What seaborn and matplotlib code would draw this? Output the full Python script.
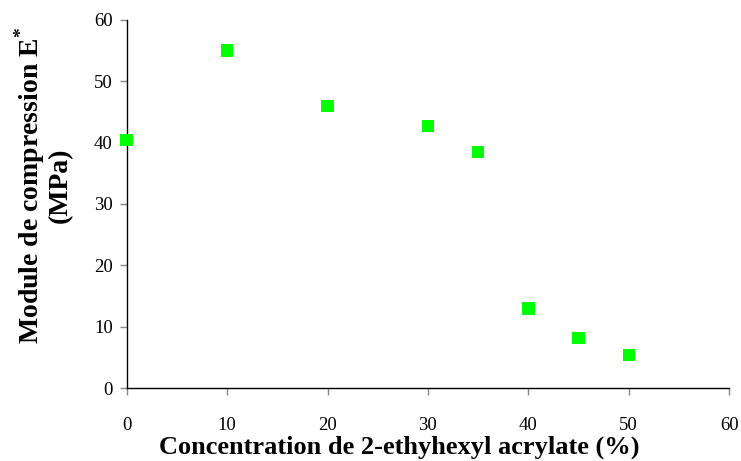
import matplotlib
matplotlib.use('Agg')
import matplotlib.pyplot as plt
import seaborn as sns
import pandas as pd

# values
concentration = [0, 10, 20, 30, 35, 40, 45, 50]
module_e = [40.4, 55.0, 46.0, 42.7, 38.5, 13.0, 8.2, 5.4]

df = pd.DataFrame({'conc': concentration, 'E': module_e})

sns.set_style('white')
plt.rcParams['font.family'] = ['Liberation Serif', 'DejaVu Serif']
plt.rcParams['mathtext.fontset'] = 'custom'
plt.rcParams['mathtext.rm'] = 'Liberation Serif:bold'
plt.rcParams['mathtext.bf'] = 'Liberation Serif:bold'
plt.rcParams['text.color'] = 'black'
plt.rcParams['axes.labelcolor'] = 'black'

fig = plt.figure(figsize=(7.41, 4.61), dpi=100)
ax = fig.add_axes([0.171, 0.158, 0.813, 0.799])

sns.scatterplot(data=df, x='conc', y='E', marker='s', s=80, color='#00ff00',
                edgecolor='none', ax=ax, clip_on=False, zorder=3)

ax.set_xlim(0, 60)
ax.set_ylim(0, 60)
ax.set_xticks(range(0, 61, 10))
ax.set_yticks(range(0, 61, 10))

for side in ['top', 'right']:
    ax.spines[side].set_visible(False)
for side in ['left', 'bottom']:
    ax.spines[side].set_color('black')
    ax.spines[side].set_linewidth(1.0)

ax.tick_params(axis='x', direction='out', length=5, width=1, color='#888888',
               pad=16, labelsize=13.5, labelcolor='black', bottom=True)
ax.tick_params(axis='y', direction='out', length=5, width=1, color='#888888',
               pad=5, labelsize=13.5, labelcolor='black', left=True)

ax.set_xlabel('Concentration de 2-ethyhexyl acrylate (%)', fontsize=19,
              fontweight='bold', color='black')
ax.xaxis.set_label_coords(0.453, -0.13)
ax.set_ylabel('Module de compression E$^{\\mathbf{*}}$\n(MPa)', fontsize=20,
              fontweight='bold', linespacing=1.0, color='black')
ax.yaxis.set_label_coords(-0.09, 0.55)

fig.savefig('out.png', dpi=100)
